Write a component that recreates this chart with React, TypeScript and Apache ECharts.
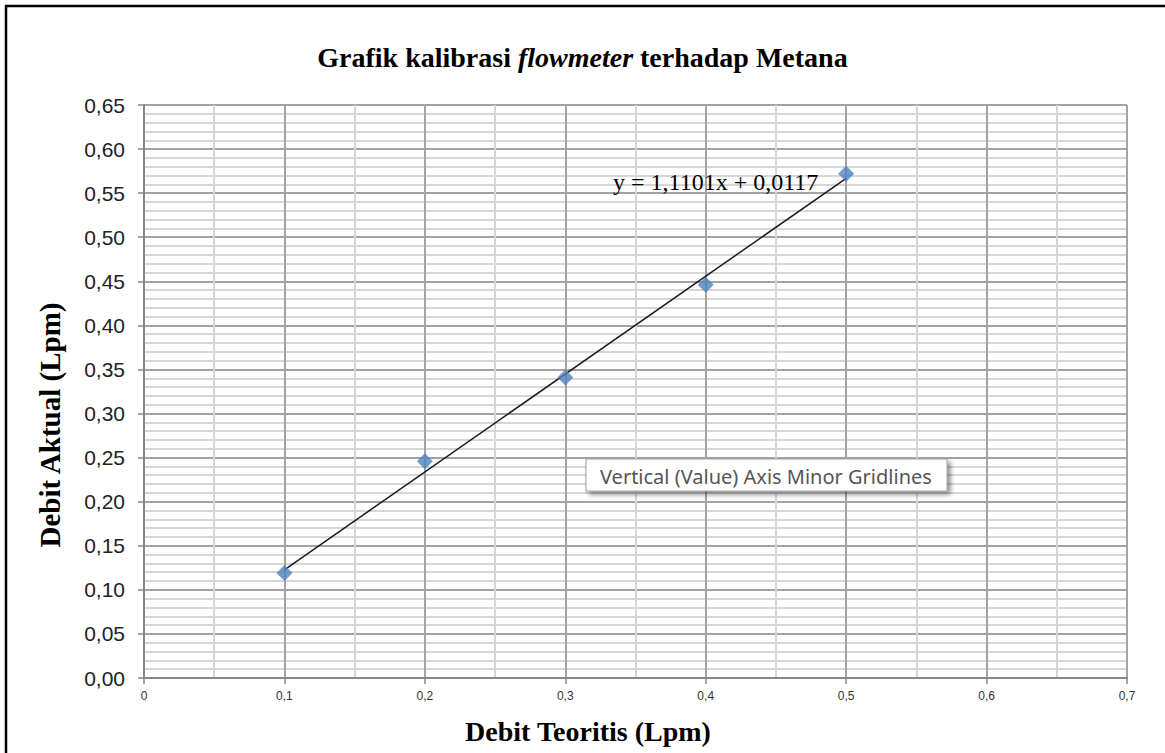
import React, { useEffect, useRef } from "react";
import * as echarts from "echarts";

const xValues = [0.1, 0.2, 0.3, 0.4, 0.5];
const yValues = [0.119, 0.246, 0.341, 0.446, 0.572];
const trendX = [0.1, 0.5];
const trendY = [0.1227, 0.5668];
const titleParts = ["Grafik kalibrasi ", "flowmeter", " terhadap Metana"];
const xAxisTitle = "Debit Teoritis (Lpm)";
const yAxisTitle = "Debit Aktual (Lpm)";
const equationText = "y = 1,1101x + 0,0117";
const tooltipText = "Vertical (Value) Axis Minor Gridlines";

export default function App() {
  const ref = useRef<HTMLDivElement>(null);
  useEffect(() => {
    document.body.style.margin = "0";
    const chart = echarts.init(ref.current!, null, { renderer: "svg" });
    const serif = "'Liberation Serif', 'Times New Roman', serif";
    const option: any = {
      animation: false,
      backgroundColor: "#ffffff",
      title: {
        text: `{b|${titleParts[0]}}{i|${titleParts[1]}}{b|${titleParts[2]}}`,
        left: "center",
        top: 38,
        textStyle: {
          rich: {
            b: { fontFamily: serif, fontWeight: "bold", fontSize: 28, color: "#000" },
            i: { fontFamily: serif, fontWeight: "bold", fontStyle: "italic", fontSize: 28, color: "#000" },
          },
        },
      },
      grid: { left: 144, right: 38, top: 105, bottom: 75 },
      xAxis: {
        type: "value",
        min: 0,
        max: 0.7,
        interval: 0.1,
        axisLine: { show: true, onZero: false, lineStyle: { color: "#868686", width: 2 } },
        axisTick: { show: true, length: 6, lineStyle: { color: "#868686", width: 1.5 } },
        axisLabel: {
          fontFamily: "'Liberation Sans', Arial, sans-serif",
          fontSize: 12,
          color: "#333",
          margin: 12,
          formatter: (v: number) => (v === 0 ? "0" : v.toFixed(1).replace(".", ",")),
        },
        splitLine: { show: true, lineStyle: { color: "#a3a3a3", width: 2 } },
        minorTick: { show: false, splitNumber: 2 },
        minorSplitLine: { show: true, lineStyle: { color: "#d6d6d6", width: 2 } },
      },
      yAxis: {
        type: "value",
        min: 0,
        max: 0.65,
        interval: 0.05,
        axisLine: { show: true, onZero: false, lineStyle: { color: "#868686", width: 2 } },
        axisTick: { show: true, length: 6, lineStyle: { color: "#868686", width: 1.5 } },
        axisLabel: {
          fontFamily: "'Liberation Sans', Arial, sans-serif",
          fontSize: 21,
          color: "#222",
          margin: 19,
          formatter: (v: number) => v.toFixed(2).replace(".", ","),
        },
        splitLine: { show: true, lineStyle: { color: "#a3a3a3", width: 2 } },
        minorTick: { show: false, splitNumber: 5 },
        minorSplitLine: { show: true, lineStyle: { color: "#d6d6d6", width: 2 } },
      },
      series: [
        {
          type: "line",
          data: trendX.map((x, i) => [x, trendY[i]]),
          symbol: "none",
          lineStyle: { color: "#1a1a1a", width: 1.5 },
          z: 3,
        },
        {
          type: "scatter",
          data: xValues.map((x, i) => [x, yValues[i]]),
          symbol: "diamond",
          symbolSize: 16,
          itemStyle: { color: "#4F81BD" },
          z: 4,
        },
      ],
      graphic: [
        {
          type: "rect",
          shape: { x: 6, y: 6, width: 1300, height: 900 },
          style: { fill: "none", stroke: "#000", lineWidth: 2.5 },
          z: 100,
        },
        {
          type: "text",
          x: 588,
          y: 731,
          style: {
            text: xAxisTitle,
            font: `bold 28px ${serif}`,
            fill: "#000",
            textAlign: "center",
            textVerticalAlign: "middle",
          },
        },
        {
          type: "text",
          x: 50,
          y: 425,
          rotation: Math.PI / 2,
          style: {
            text: yAxisTitle,
            font: `bold 29px ${serif}`,
            fill: "#000",
            textAlign: "center",
            textVerticalAlign: "middle",
          },
        },
        {
          type: "text",
          x: 613,
          y: 182,
          style: {
            text: equationText,
            font: `24px ${serif}`,
            fill: "#000",
            textAlign: "left",
            textVerticalAlign: "middle",
          },
          z: 10,
        },
        {
          type: "rect",
          shape: { x: 586, y: 459, width: 361, height: 32 },
          style: {
            fill: "#fff",
            stroke: "#a0a0a0",
            lineWidth: 1,
            shadowBlur: 5,
            shadowOffsetX: 3,
            shadowOffsetY: 3,
            shadowColor: "rgba(0,0,0,0.45)",
          },
          z: 20,
        },
        {
          type: "text",
          x: 600,
          y: 476,
          style: {
            text: tooltipText,
            font: "20px 'Noto Sans', 'Open Sans', sans-serif",
            fill: "#555",
            textAlign: "left",
            textVerticalAlign: "middle",
          },
          z: 21,
        },
      ],
    };
    chart.setOption(option);
    return () => chart.dispose();
  }, []);
  return <div ref={ref} style={{ width: 1165, height: 753 }} />;
}
